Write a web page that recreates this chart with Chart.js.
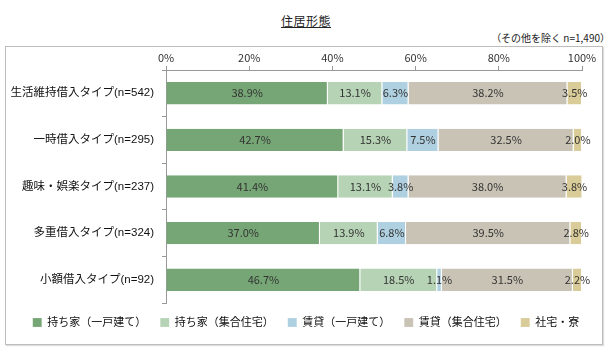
<!DOCTYPE html>
<html>
<head>
<meta charset="utf-8">
<script src="https://cdn.jsdelivr.net/npm/chart.js@4"></script>
<style>
  body { margin: 0; background: #fff; font-family: "Noto Sans CJK JP", sans-serif; }
  #title { position: absolute; left: 0; top: 12px; width: 612px; text-align: center;
           font-size: 12px; letter-spacing: 0.5px; text-decoration: underline; color: #222; }
  #note { position: absolute; right: 2px; top: 30px; font-size: 10px; color: #222; }
  #frame { position: absolute; left: 5px; top: 46px; width: 596px; height: 297px;
           border: 1px solid #bdbdbd; box-shadow: 1px 1px 1px #ddd; }
</style>
</head>
<body>
<div id="title">住居形態</div>
<div id="note">（その他を除く n=1,490）</div>
<div id="frame"><canvas id="chart" width="596" height="297"></canvas></div>
<script>
// chart data
const categories = [
  "生活維持借入タイプ(n=542)",
  "一時借入タイプ(n=295)",
  "趣味・娯楽タイプ(n=237)",
  "多重借入タイプ(n=324)",
  "小額借入タイプ(n=92)"
];
const seriesNames = ["持ち家（一戸建て）", "持ち家（集合住宅）", "賃貸（一戸建て）", "賃貸（集合住宅）", "社宅・寮"];
const ownHouse = [38.9, 42.7, 41.4, 37.0, 46.7];
const ownApt = [13.1, 15.3, 13.1, 13.9, 18.5];
const rentHouse = [6.3, 7.5, 3.8, 6.8, 1.1];
const rentApt = [38.2, 32.5, 38.0, 39.5, 31.5];
const company = [3.5, 2.0, 3.8, 2.8, 2.2];
const xTicks = [0, 20, 40, 60, 80, 100];

const colors = ["#76a675", "#b6d3b5", "#afd0e0", "#c9c3b6", "#d9cc98"];
const values = [ownHouse, ownApt, rentHouse, rentApt, company];
const fontFam = "'Liberation Sans', 'Noto Sans CJK JP', sans-serif";

// draws the % labels in the middle of each segment
const segmentLabels = {
  id: "segmentLabels",
  afterDatasetsDraw(chart) {
    const ctx = chart.ctx;
    ctx.save();
    ctx.font = "11px 'Noto Sans CJK JP', sans-serif";
    ctx.fillStyle = "#333";
    ctx.textAlign = "center";
    ctx.textBaseline = "middle";
    chart.data.datasets.forEach((ds, i) => {
      chart.getDatasetMeta(i).data.forEach((bar, j) => {
        const p = bar.getCenterPoint();
        ctx.fillText(ds.data[j].toFixed(1) + "%", p.x, p.y);
      });
    });
    ctx.restore();
  }
};

// legend is centred on the whole frame, not on the padded area
const centreLegend = {
  id: "centreLegend",
  beforeDraw(chart) {
    chart.legend.left = 12;
    chart.legend.right = chart.width - 8;
  }
};

new Chart(document.getElementById("chart"), {
  type: "bar",
  data: {
    labels: categories,
    datasets: seriesNames.map((name, i) => ({
      label: name,
      data: values[i],
      backgroundColor: colors[i],
      borderColor: "rgba(255,255,255,0.6)",
      borderWidth: { left: 0, right: 1, top: 0, bottom: 0 },
      borderSkipped: false,
      barPercentage: 0.48,
      categoryPercentage: 1
    }))
  },
  options: {
    indexAxis: "y",
    responsive: false,
    animation: false,
    layout: { padding: { left: 0, right: 20, top: 0, bottom: 6 } },
    scales: {
      x: {
        position: "top",
        stacked: true,
        min: 0,
        max: 100,
        afterBuildTicks: (scale) => { scale.ticks = xTicks.map(v => ({ value: v })); },
        afterFit: (scale) => { scale.height = 23; },
        ticks: {
          callback: (v) => v + "%",
          color: "#333",
          padding: 2,
          font: { size: 11, family: "'Noto Sans CJK JP', sans-serif" }
        },
        grid: { drawOnChartArea: false, tickLength: 4, color: "#999" },
        border: { color: "#999" }
      },
      y: {
        stacked: true,
        afterFit: (scale) => { scale.width = 160; },
        ticks: {
          color: "#111",
          padding: 8,
          font: { size: 11.5, family: fontFam }
        },
        grid: { drawOnChartArea: false, offset: true, tickLength: 4, color: "#999" },
        border: { color: "#999" }
      }
    },
    plugins: {
      legend: {
        position: "bottom",
        labels: {
          boxWidth: 9,
          boxHeight: 9,
          padding: 14,
          color: "#111",
          font: { size: 11, family: fontFam }
        }
      },
      tooltip: { enabled: false }
    }
  },
  plugins: [segmentLabels, centreLegend]
});
</script>
</body>
</html>
